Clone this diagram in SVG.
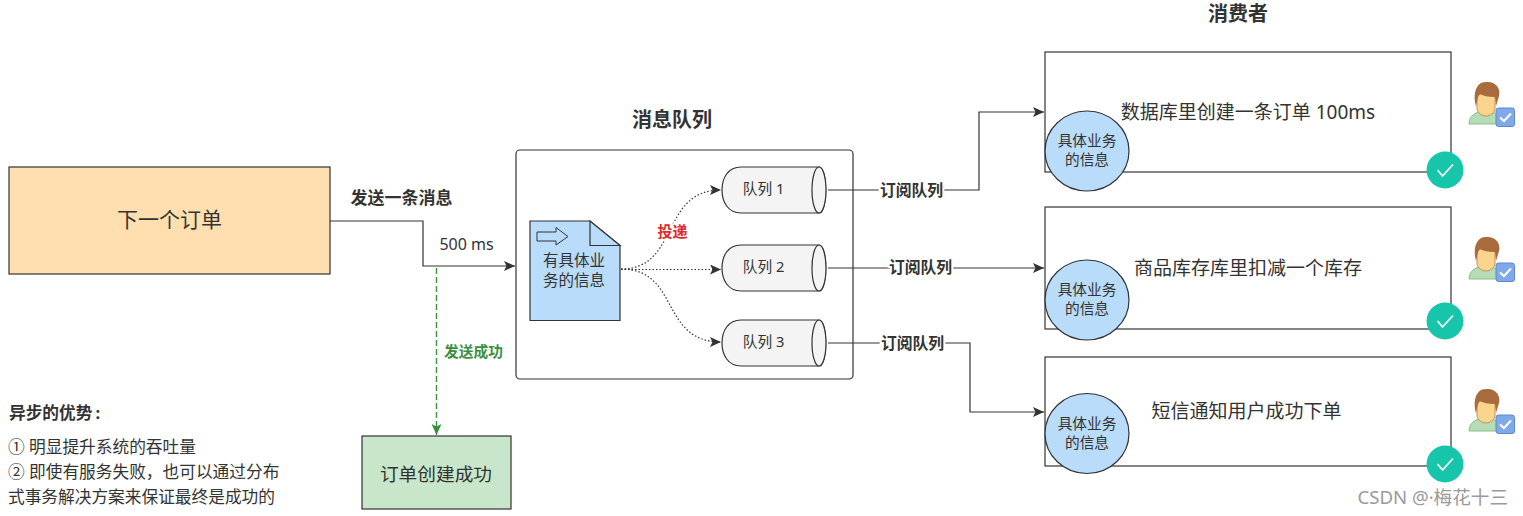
<svg xmlns="http://www.w3.org/2000/svg" xmlns:xlink="http://www.w3.org/1999/xlink" width="1523" height="516" viewBox="0 0 1523 516">
<style>
text{font-family:"Noto Sans","Noto Sans CJK SC",sans-serif;fill:#333;text-anchor:middle}
.b{font-weight:700}
.l{text-anchor:start}
.box{fill:#fff;stroke:#333;stroke-width:1.2}
.edge{fill:none;stroke:#333;stroke-width:1.2}
.dot{fill:none;stroke:#333;stroke-width:1.2;stroke-dasharray:1.5 2}
.blue{fill:#b9dcfa;stroke:#333;stroke-width:1.2}
.cyl{fill:#f4f4f4;stroke:#333;stroke-width:1.2}
.halo{stroke:#fff;stroke-width:4;paint-order:stroke}
</style>
<defs>
<marker id="arr" markerUnits="userSpaceOnUse" markerWidth="12" markerHeight="10" refX="11" refY="5" orient="auto"><path d="M0 0L11 5L0 10L2.5 5Z" fill="#333"/></marker>
<marker id="arrg" markerUnits="userSpaceOnUse" markerWidth="10" markerHeight="12" refX="5" refY="11" orient="0"><path d="M0 0L5 2.500L10 0L5 11Z" fill="#3a8f3f"/></marker>
<g id="check"><circle r="18.500" fill="#17c5ab"/><path d="M-7.500 0L-2.500 6L8 -5.500" fill="none" stroke="#fff" stroke-width="1.800"/></g>
<g id="person">
<path d="M-17 22C-17 13-10 11-5 9L5 9C8 11 12 12 14 15L14 22Z" fill="#b5dcb5" stroke="#8cbf8c" stroke-width="1"/>
<path d="M-9 -8H9V6C9 11 4 14 0 14C-4 14-9 11-9 6Z" fill="#fbd58d" stroke="#c9924f" stroke-width="1"/>
<path d="M-10 4C-13 -6-11 -20 0 -20C10 -21 15 -13 13 -6L10 4L9 -5C2 -5-3 -6-6 -8L-8 -5Z" fill="#a86b3c"/>
<rect x="10" y="6" width="18.500" height="18.500" rx="2.500" fill="#7fa9ea" stroke="#5e88cc" stroke-width="1"/>
<path d="M14 15.500L18 19L25 11.500" fill="none" stroke="#fff" stroke-width="2"/>
</g>
<g id="biz"><ellipse rx="42" ry="40" class="blue"/><text y="-5" font-size="14.700">具体业务</text><text y="14" font-size="14.700">的信息</text></g>
</defs>

<g id="mq">
<rect x="516" y="150" width="337" height="229" rx="4" class="box"/>
</g>

<g id="connectors">
<path class="edge" marker-end="url(#arr)" d="M330 221H423V266H515"/>
<path fill="none" stroke="#3a8f3f" stroke-width="1.400" stroke-dasharray="6 3" marker-end="url(#arrg)" d="M436.500 268V435"/>
<path class="dot" marker-end="url(#arr)" d="M621 269C680 269 660 190 721 190"/>
<path class="dot" marker-end="url(#arr)" d="M621 269.500H721"/>
<path class="dot" marker-end="url(#arr)" d="M621 269C680 269 660 342 721 342"/>
<path class="edge" marker-end="url(#arr)" d="M828 190H979V112H1044"/>
<path class="edge" marker-end="url(#arr)" d="M828 268H1044"/>
<path class="edge" marker-end="url(#arr)" d="M828 343H970V412H1044"/>
</g>

<g id="labels">
<text class="b" x="401.500" y="204" font-size="17">发送一条消息</text>
<text x="466.500" y="250" font-size="16">500 ms</text>
<text class="b halo" x="672.500" y="237" font-size="15" style="fill:#e02b2b">投递</text>
<text class="b" x="473.500" y="357" font-size="14.700" style="fill:#3a8f3f">发送成功</text>
<text class="b halo" x="911.500" y="196" font-size="15.800">订阅队列</text>
<text class="b halo" x="920.500" y="273" font-size="15.800">订阅队列</text>
<text class="b halo" x="912.500" y="349" font-size="15.800">订阅队列</text>
<text class="b" x="672" y="127" font-size="20">消息队列</text>
<text class="b" x="1238" y="21" font-size="20">消费者</text>
</g>

<g id="order"><rect x="9" y="167" width="321" height="107" fill="#ffdfb0" stroke="#333" stroke-width="1.200"/><text x="169.500" y="227" font-size="21">下一个订单</text></g>
<g id="success"><rect x="362" y="436" width="149" height="73" fill="#c8e6c9" stroke="#333" stroke-width="1.200"/><text x="436" y="481" font-size="18.700">订单创建成功</text></g>

<g id="doc">
<path class="blue" d="M530 221H590L620 245.500V320.500H530Z"/>
<path class="blue" d="M590 221V245.500H620Z"/>
<path fill="none" stroke="#333" stroke-width="1" d="M537 232H556V227.500L568 236.500L556 245V241H537Z"/>
<text x="574" y="266" font-size="15.500">有具体业</text><text x="574" y="286" font-size="15.500">务的信息</text>
</g>
<g id="queue1"><path class="cyl" d="M741 167H819C828 167 828 213 819 213H741C728 213 722 202 722 190C722 178 728 167 741 167Z"/><ellipse class="cyl" cx="819" cy="190" rx="7" ry="23"/><text x="763.500" y="194" font-size="14.700">队列 1</text></g>
<g id="queue2"><path class="cyl" d="M741 245H819C828 245 828 291 819 291H741C728 291 722 280 722 268C722 256 728 245 741 245Z"/><ellipse class="cyl" cx="819" cy="268" rx="7" ry="23"/><text x="763.500" y="272" font-size="14.700">队列 2</text></g>
<g id="queue3"><path class="cyl" d="M741 320H819C828 320 828 366 819 366H741C728 366 722 355 722 343C722 331 728 320 741 320Z"/><ellipse class="cyl" cx="819" cy="343" rx="7" ry="23"/><text x="763.500" y="347" font-size="14.700">队列 3</text></g>

<g id="consumer1"><rect class="box" x="1045" y="52" width="406" height="120"/><text x="1248" y="119" font-size="19">数据库里创建一条订单 100ms</text><use xlink:href="#biz" href="#biz" x="1087" y="151"/><use xlink:href="#check" href="#check" x="1445" y="170"/><use xlink:href="#person" href="#person" x="1486" y="102"/></g>
<g id="consumer2"><rect class="box" x="1045" y="207" width="406" height="122"/><text x="1248" y="275" font-size="19">商品库存库里扣减一个库存</text><use xlink:href="#biz" href="#biz" x="1087" y="300"/><use xlink:href="#check" href="#check" x="1445" y="321"/><use xlink:href="#person" href="#person" x="1486" y="257"/></g>
<g id="consumer3"><rect class="box" x="1045" y="357" width="406" height="109"/><text x="1246.500" y="418" font-size="19">短信通知用户成功下单</text><use xlink:href="#biz" href="#biz" x="1087" y="433.500"/><use xlink:href="#check" href="#check" x="1445" y="464"/><use xlink:href="#person" href="#person" x="1486" y="409"/></g>

<g id="notes">
<text class="b l" x="9" y="419" font-size="16.700">异步的优势<tspan dx="3">:</tspan></text>
<text class="l" x="8" y="453" font-size="16.700">① 明显提升系统的吞吐量</text>
<text class="l" x="8" y="478" font-size="16.700">② 即使有服务失败，也可以通过分布</text>
<text class="l" x="8" y="503" font-size="16.700">式事务解决方案来保证最终是成功的</text>
</g>
<text x="1508" y="504" font-size="18.600" style="text-anchor:end;fill:#9a9a9a">CSDN @·梅花十三</text>
</svg>
